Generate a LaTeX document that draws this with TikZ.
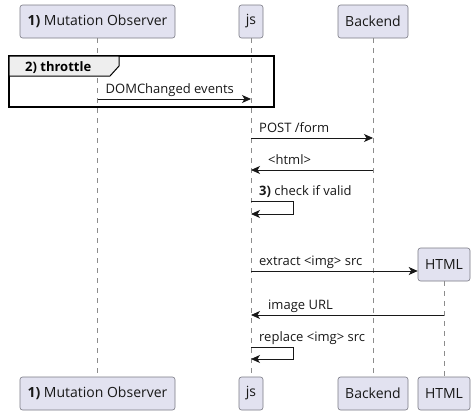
\documentclass[tikz,border=0pt]{standalone}
\usepackage{fontspec}
\setmainfont{Open Sans}
\usetikzlibrary{arrows.meta, positioning, calc}
\definecolor{PartFill}{HTML}{E2E2F0}
\definecolor{PartLine}{HTML}{7A7A84}
\definecolor{LifeGray}{HTML}{8C8C8C}
\definecolor{TabFill}{HTML}{EEEEEE}
\definecolor{InkDark}{HTML}{181818}
\tikzset{
  part/.style={rectangle, rounded corners=2.5pt, draw=PartLine, fill=PartFill,
    line width=0.6pt, minimum height=33pt, inner xsep=5pt, text centered,
    font=\fontsize{14}{16}\selectfont, text=InkDark},
  life/.style={draw=LifeGray, dash pattern=on 5pt off 5pt, line width=0.6pt},
  msg/.style={-{Stealth[length=9pt, width=8pt, inset=2.5pt]}, line width=0.8pt,
    draw=InkDark},
  lbl/.style={font=\fontsize{13}{15}\selectfont, inner sep=0pt,
    anchor=base west, text=InkDark},
}

\begin{document}
\begin{tikzpicture}[x=1pt, y=-1pt]
  \useasboundingbox (0,0) rectangle (476,416);
  % participants, top row
  \node[part, minimum width=155pt] (mo) at (97.5,21.5) {\textbf{1)} Mutation Observer};
  \node[part, minimum width=24pt] (js) at (251,21.5) {js};
  \node[part, minimum width=70pt] (be) at (373,21.5) {Backend};
  \node[part, minimum width=52pt] (html) at (444,264.5) {HTML};
  % participants, bottom row
  \node[part, minimum width=155pt] (mob) at (97.5,393.5) {\textbf{1)} Mutation Observer};
  \node[part, minimum width=24pt] (jsb) at (251,393.5) {js};
  \node[part, minimum width=70pt] (beb) at (373,393.5) {Backend};
  \node[part, minimum width=52pt] (htmlb) at (444,393.5) {HTML};
  % lifelines
  \draw[life] (mo.south) -- (mob.north);
  \draw[life] (js.south) -- (jsb.north);
  \draw[life] (be.south) -- (beb.north);
  \draw[life] (html.south) -- (htmlb.north);

  % throttle group
  \draw[line width=1.5pt] (9,56) rectangle (274,107);
  \draw[fill=TabFill, line width=1pt] (9,56) -- (119,56) -- (119,66)
    -- (110,76) -- (9,76) -- cycle;
  \node[font=\fontsize{13}{15}\selectfont\bfseries, inner sep=0pt,
    anchor=base west] (thr) at (25,71) {2) throttle};

  % messages
  \coordinate (m1s) at (mo.south |- 0,99);  \coordinate (m1t) at (js.south |- 0,99);
  \draw[msg] (m1s) -- (m1t);
  \node[lbl] (l1) at ($(m1s)+(8,-6)$) {DOMChanged events};

  \coordinate (m2s) at (js.south |- 0,138); \coordinate (m2t) at (be.south |- 0,138);
  \draw[msg] (m2s) -- (m2t);
  \node[lbl] (l2) at ($(m2s)+(8,-6)$) {POST /form};

  \coordinate (m3s) at (be.south |- 0,170); \coordinate (m3t) at (js.south |- 0,170);
  \draw[msg] (m3s) -- (m3t);
  \node[lbl] (l3) at ($(m3t)+(17,-6)$) {<html>};

  \coordinate (m4s) at (js.south |- 0,201); \coordinate (m4t) at (js.south |- 0,214);
  \draw[msg] (m4s) -- ++(42,0) -- ++(0,13) -- (m4t);
  \node[lbl] (l4) at ($(m4s)+(8,-6)$) {\textbf{3)} check if valid};

  \coordinate (m5s) at (js.south |- 0,271); \coordinate (m5t) at (html.west |- 0,271);
  \draw[msg] (m5s) -- (m5t);
  \node[lbl] (l5) at ($(m5s)+(8,-6)$) {extract <img> src};

  \coordinate (m6s) at (html.south |- 0,315); \coordinate (m6t) at (js.south |- 0,315);
  \draw[msg] (m6s) -- (m6t);
  \node[lbl] (l6) at ($(m6t)+(17,-6)$) {image URL};

  \coordinate (m7s) at (js.south |- 0,347); \coordinate (m7t) at (js.south |- 0,359);
  \draw[msg] (m7s) -- ++(42,0) -- ++(0,12) -- (m7t);
  \node[lbl] (l7) at ($(m7s)+(8,-6)$) {replace <img> src};
\end{tikzpicture}
\end{document}
